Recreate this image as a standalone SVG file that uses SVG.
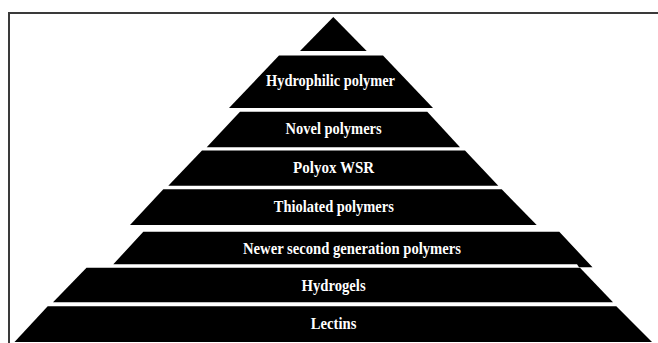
<svg xmlns="http://www.w3.org/2000/svg" width="658" height="343" viewBox="0 0 658 343">
<style>
.layer{fill:#000;}
.lbl{fill:#fff;font-family:"Liberation Serif","Times New Roman",serif;font-weight:bold;font-size:16px;text-anchor:middle;}
.frame{fill:none;stroke:#3a3a3a;stroke-width:2;}
</style>
<rect class="frame" x="9" y="13" width="670" height="350"/>
<g id="apex">
<polygon class="layer" points="333.3,17 366.7,51 300,51"/>
</g>
<g id="hydrophilic-polymer">
<polygon class="layer" points="279,55.5 383,55.5 433,108 229,108"/>
<text class="lbl" x="330.5" y="86" textLength="129" lengthAdjust="spacingAndGlyphs">Hydrophilic polymer</text>
</g>
<g id="novel-polymers">
<polygon class="layer" points="240,111.7 427.3,111.7 460,147.3 206.7,147.3"/>
<text class="lbl" x="333.6" y="134.3" textLength="96" lengthAdjust="spacingAndGlyphs">Novel polymers</text>
</g>
<g id="polyox-wsr">
<polygon class="layer" points="202,150.5 465,150.5 498.3,185.7 168.3,185.7"/>
<text class="lbl" x="333.6" y="173" textLength="81" lengthAdjust="spacingAndGlyphs">Polyox WSR</text>
</g>
<g id="thiolated-polymers">
<polygon class="layer" points="163.3,189.3 501.7,189.3 536.7,225 130,225"/>
<text class="lbl" x="333.8" y="211.5" textLength="120" lengthAdjust="spacingAndGlyphs">Thiolated polymers</text>
</g>
<g id="newer-second-generation-polymers">
<polygon class="layer" points="143.3,231.7 559.3,231.7 592.5,267.3 579,267.3 577,264.3 113.3,264.3"/>
<text class="lbl" x="352" y="254" textLength="218" lengthAdjust="spacingAndGlyphs">Newer second generation polymers</text>
</g>
<g id="hydrogels">
<polygon class="layer" points="86.5,267.7 580,267.7 613,302.3 53,302.3"/>
<text class="lbl" x="333.6" y="290.5" textLength="64" lengthAdjust="spacingAndGlyphs">Hydrogels</text>
</g>
<g id="lectins">
<polygon class="layer" points="47.7,306.3 616.3,306.3 652,342 14.5,342"/>
<text class="lbl" x="333.6" y="329" textLength="45.5" lengthAdjust="spacingAndGlyphs">Lectins</text>
</g>
</svg>
